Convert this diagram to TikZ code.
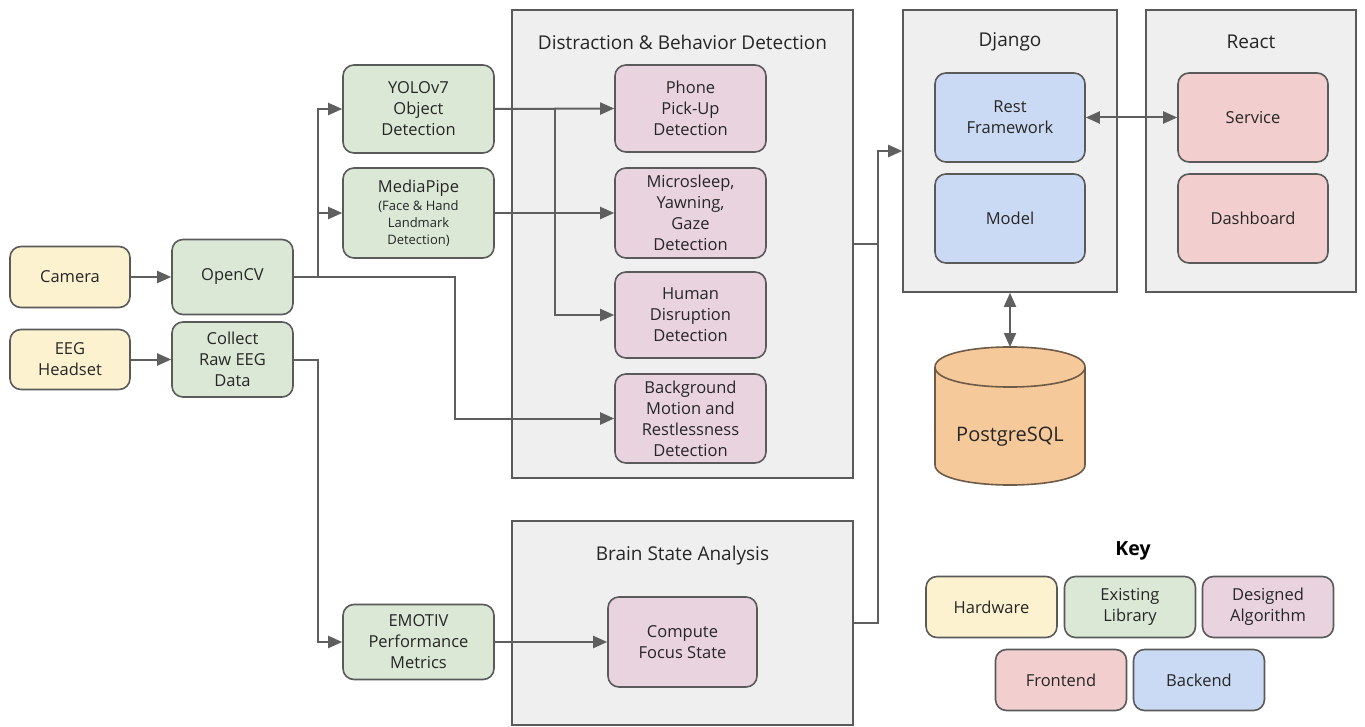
\documentclass[tikz,border=0pt]{standalone}
\usepackage{fontspec}
\setmainfont{Open Sans}
\usetikzlibrary{arrows.meta}
\definecolor{hwc}{HTML}{FDF2D0}
\definecolor{libc}{HTML}{DCE8D6}
\definecolor{algc}{HTML}{E9D3DF}
\definecolor{frc}{HTML}{F2CECE}
\definecolor{bec}{HTML}{CBDAF4}
\definecolor{grpc}{HTML}{EFEFEF}
\definecolor{bordc}{HTML}{5A5A5A}
\definecolor{lnc}{HTML}{5F5F5F}
\definecolor{txtc}{HTML}{262626}
\definecolor{pgc}{HTML}{F6C99A}
\definecolor{pgb}{HTML}{6E5A48}
\begin{document}
\begin{tikzpicture}[x=1pt,y=-1pt,
  box/.style={draw=bordc, line width=1.6pt, rounded corners=11pt, align=center, inner sep=2pt,
    font=\fontsize{16.5}{21}\selectfont, text=txtc},
  grp/.style={draw=bordc, fill=grpc, line width=1.6pt, inner sep=0pt},
  gtitle/.style={font=\fontsize{19}{23}\selectfont, text=txtc},
  ln/.style={draw=lnc, line width=2pt},
  conn/.style={ln, -{Triangle[length=14pt,width=12pt]}},
  dconn/.style={ln, {Triangle[length=14pt,width=12pt]}-{Triangle[length=14pt,width=12pt]}}
]
\useasboundingbox (0,0) rectangle (1365,727);
\fill[white] (0,0) rectangle (1365,727);

% group boxes
\node[grp, minimum width=341, minimum height=468] (dist) at (682.5,244) {};
\node[gtitle] (distt) at (682.5,42) {Distraction \& Behavior Detection};
\node[grp, minimum width=341, minimum height=204] (brain) at (682.5,623) {};
\node[gtitle] (braint) at (682.5,556) {Brain State Analysis};
\node[grp, minimum width=214, minimum height=282] (dj) at (1010,151) {};
\node[gtitle] (djt) at (1010,42) {Django};
\node[grp, minimum width=210, minimum height=282] (re) at (1251,151) {};
\node[gtitle] (ret) at (1251,42) {React};

% hardware
\node[box, fill=hwc, minimum width=120, minimum height=61] (cam) at (70,277) {Camera};
\node[box, fill=hwc, minimum width=120, minimum height=60] (eeg) at (70,359.5) {EEG\\Headset};

% libraries
\node[box, fill=libc, minimum width=121, minimum height=75] (oc) at (232.5,277) {OpenCV};
\node[box, fill=libc, minimum width=121, minimum height=75] (col) at (232.5,359.5) {Collect\\Raw EEG\\Data};
\node[box, fill=libc, minimum width=151, minimum height=88] (yolo) at (418.5,109) {YOLOv7\\Object\\Detection};
\node[box, fill=libc, minimum width=151, minimum height=90, font=\fontsize{16.5}{17}\selectfont] (mp) at (418.5,213)
  {MediaPipe\\[1pt]{\fontsize{13}{16}\selectfont (Face \& Hand}\\{\fontsize{13}{16}\selectfont Landmark}\\{\fontsize{13}{16}\selectfont Detection)}};
\node[box, fill=libc, minimum width=151, minimum height=75] (emo) at (418.5,642) {EMOTIV\\Performance\\Metrics};

% algorithms
\node[box, fill=algc, minimum width=151, minimum height=87] (ph) at (690.5,108.5) {Phone\\Pick-Up\\Detection};
\node[box, fill=algc, minimum width=151, minimum height=90] (ms) at (690.5,213) {Microsleep,\\Yawning,\\Gaze\\Detection};
\node[box, fill=algc, minimum width=151, minimum height=86] (hd) at (690.5,315) {Human\\Disruption\\Detection};
\node[box, fill=algc, minimum width=151, minimum height=89] (bg) at (690.5,418.5) {Background\\Motion and\\Restlessness\\Detection};
\node[box, fill=algc, minimum width=149, minimum height=90] (cf) at (682.5,642) {Compute\\Focus State};

% backend / frontend
\node[box, fill=bec, minimum width=150, minimum height=89] (rf) at (1010,117.5) {Rest\\Framework};
\node[box, fill=bec, minimum width=150, minimum height=89] (mo) at (1010,218.5) {Model};
\node[box, fill=frc, minimum width=150, minimum height=89] (sv) at (1253,117.5) {Service};
\node[box, fill=frc, minimum width=150, minimum height=89] (db) at (1253,218.5) {Dashboard};

% PostgreSQL cylinder
\filldraw[fill=pgc, draw=pgb, line width=1.6pt]
  (935,367) -- (935,465) .. controls (935,491.7) and (1085,491.7) .. (1085,465)
  -- (1085,367) .. controls (1085,340.3) and (935,340.3) .. (935,367) -- cycle;
\draw[draw=pgb, line width=1.6pt] (935,367) .. controls (935,393.7) and (1085,393.7) .. (1085,367);
\coordinate (pgtop) at (1010,347);
\node[font=\fontsize{20}{24}\selectfont, text=txtc] (pg) at (1010,437) {PostgreSQL};

% key
\node[font=\bfseries\fontsize{19.5}{23}\selectfont, text=black] (key) at (1133,551) {Key};
\node[box, fill=hwc, minimum width=131, minimum height=61] (k1) at (991.5,607) {Hardware};
\node[box, fill=libc, minimum width=131, minimum height=61] (k2) at (1130,607) {Existing\\Library};
\node[box, fill=algc, minimum width=131, minimum height=61] (k3) at (1268,607) {Designed\\Algorithm};
\node[box, fill=frc, minimum width=131, minimum height=61] (k4) at (1061,680) {Frontend};
\node[box, fill=bec, minimum width=131, minimum height=61] (k5) at (1199,680) {Backend};

% connectors
\coordinate (j1) at (318,277);
\coordinate (j2) at (455,277);
\coordinate (j3) at (555,109);
\coordinate (j4) at (318,359.5);
\coordinate (j5) at (878,151);

\draw[conn] (cam) -- (oc);
\draw[conn] (eeg) -- (col);
\draw[conn] (oc.east) -- (j1) |- (yolo.west);
\draw[conn] (j1) |- (mp.west);
\draw[conn] (oc.east) -- (j2) |- (bg.west);
\draw[conn] (yolo.east) -- (ph.west);
\draw[conn] (j3) |- (hd.west);
\draw[conn] (mp.east) -- (ms.west);
\draw[conn] (col.east) -- (j4) |- (emo.west);
\draw[conn] (emo.east) -- (cf.west);
\draw[ln] (dist.east) -- (dist.east -| j5);
\draw[conn] (brain.east) -| (j5) -- (dj.west);
\draw[dconn] (rf.east) -- (sv.west);
\draw[dconn] (dj.south) -- (pgtop);
\end{tikzpicture}
\end{document}
